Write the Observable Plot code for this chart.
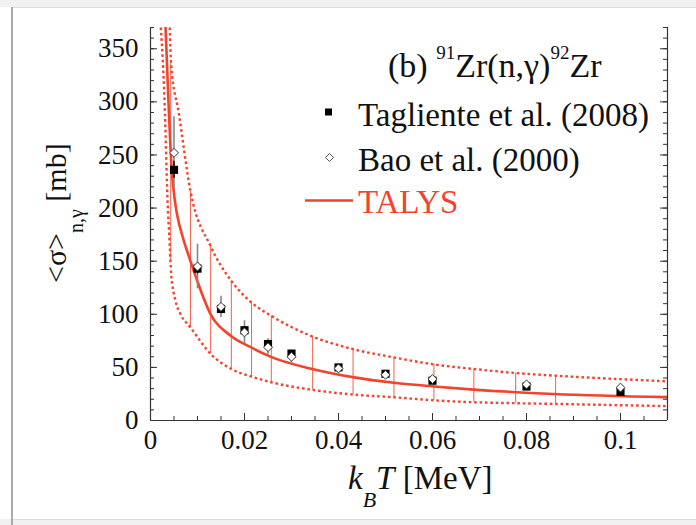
<!DOCTYPE html>
<html><head><meta charset="utf-8">
<script src="https://cdn.jsdelivr.net/npm/d3@7"></script>
<script src="https://cdn.jsdelivr.net/npm/@observablehq/plot@0.6"></script>
<style>
body{margin:0;background:#fff;}
#chart{position:relative;width:696px;height:525px;overflow:hidden;}
</style></head><body><div id="chart"></div>
<script>
// Experimental points (kT in MeV, MACS in mb)
const kT = [0.005, 0.01, 0.015, 0.02, 0.025, 0.03, 0.04, 0.05, 0.06, 0.08, 0.1];
const tagliente = [236, 143, 105, 85, 72, 63, 50, 44, 37.5, 32, 27];
const taglienteErr = [8, 5, 4, 3.5, 3, 2.5, 2, 1.8, 1.5, 1.3, 1.2];
const bao = [252, 145, 107, 83, 69, 60, 49, 43, 39, 34, 31];
const baoErr = [34, 21, 10, 11, 8, 6, 4, 3.5, 3, 2.5, 2.5];

// TALYS central curve
const talysKT = [0.0032, 0.0039, 0.0046, 0.0071, 0.0078, 0.0092, 0.0128, 0.017, 0.0213, 0.0259, 0.0344, 0.0433, 0.0518, 0.0603, 0.0688, 0.0858, 0.11];
const talys   = [370, 292, 231, 169, 159.5, 141, 100, 80, 69, 59.4, 48.5, 40.6, 35.5, 32, 29.1, 25, 22];

// TALYS uncertainty band (dotted)
const upperKT = [0.0041, 0.0044, 0.006, 0.0085, 0.0128, 0.0172, 0.0215, 0.0257, 0.0345, 0.0431, 0.0518, 0.0603, 0.0688, 0.0777, 0.0862, 0.11];
const upper   = [370, 335, 290, 216, 164, 131.4, 111, 98.5, 79, 67.2, 59.4, 52.8, 48.5, 44.7, 42.2, 36.9];
const lowerKT = [0.0022, 0.003, 0.0036, 0.0041, 0.0044, 0.0053, 0.0064, 0.0085, 0.0128, 0.0172, 0.0215, 0.0257, 0.0345, 0.0431, 0.0518, 0.0603, 0.0688, 0.0777, 0.0862, 0.11];
const lower   = [370, 300, 210, 165, 138, 113, 100, 87.6, 62.6, 48.5, 41.3, 36, 28.8, 24.4, 21.9, 19, 17.2, 16.3, 15.6, 13.5];

// vertical band bars
const barKT   = [0.0043, 0.0085, 0.0128, 0.0172, 0.0215, 0.0257, 0.0345, 0.0431, 0.0518, 0.0603, 0.0688, 0.0777, 0.0862];
const barLow  = [150, 87.6, 62.6, 48.5, 41.3, 36, 28.8, 24.4, 21.9, 19, 17.2, 16.3, 15.6];
const barHigh = [338, 216, 164, 131.4, 111, 98.5, 79, 67.2, 59.4, 52.8, 48.5, 44.7, 42.2];

// ticks
const xTicks = [0, 0.02, 0.04, 0.06, 0.08, 0.1];
const xMinor = d3.range(0, 0.1101, 0.005);
const yTicks = [0, 50, 100, 150, 200, 250, 300, 350];
const yMinor = d3.range(0, 371, 10);

const RED = "#f2432c";
const AX = "#333";
const W = 696, H = 525, ML = 150, MR = 29, MT = 27, MB = 105;
const PW = W - ML - MR, PH = H - MT - MB;

const expRows = kT.map((k, i) => ({k, tag: tagliente[i], tagE: taglienteErr[i], bao: bao[i], baoE: baoErr[i]}));
const talysRows = talysKT.map((k, i) => ({k, v: talys[i]}));
const upRows = upperKT.map((k, i) => ({k, v: upper[i]}));
const loRows = lowerKT.map((k, i) => ({k, v: lower[i]}));
const barRows = barKT.map((k, i) => ({k, lo: barLow[i], hi: barHigh[i]}));

const dotted = {stroke: RED, strokeWidth: 2.4, strokeDasharray: "2.6,2.8", strokeLinecap: "butt", curve: "monotone-x", clip: true};

const chart = Plot.plot({
  width: W, height: H,
  marginLeft: ML, marginRight: MR, marginTop: MT, marginBottom: MB,
  style: {fontFamily: "'Liberation Serif', 'DejaVu Serif', serif", fontSize: "27px", color: "#111", background: "transparent", overflow: "visible"},
  x: {domain: [0, 0.11]},
  y: {domain: [0, 370]},
  marks: [
    Plot.ruleX(barRows, {x: "k", y1: "lo", y2: "hi", stroke: RED, strokeWidth: 1, strokeOpacity: 0.85, clip: true}),
    Plot.line(upRows, {x: "k", y: "v", ...dotted}),
    Plot.line(loRows, {x: "k", y: "v", ...dotted}),
    Plot.line(talysRows, {x: "k", y: "v", stroke: RED, strokeWidth: 2.6, curve: "monotone-x", clip: true}),
    Plot.ruleX(expRows, {x: "k", y1: d => d.bao - d.baoE, y2: d => d.bao + d.baoE, stroke: "#888", strokeWidth: 1.6}),
    Plot.ruleX(expRows, {x: "k", y1: d => d.tag - d.tagE, y2: d => d.tag + d.tagE, stroke: "#000", strokeWidth: 1.4}),
    Plot.dot(expRows, {x: "k", y: "tag", symbol: "square", r: 4.6, fill: "#000", stroke: "none"}),
    Plot.dot(expRows, {x: "k", y: "bao", symbol: "diamond2", r: 4, fill: "#fff", stroke: "#333", strokeWidth: 1}),
    // axes lines
    Plot.ruleX([0], {stroke: AX, strokeWidth: 1.2}),
    Plot.ruleX([0.11], {stroke: AX, strokeWidth: 1.2}),
    Plot.ruleY([0], {stroke: AX, strokeWidth: 1.2}),
    // inward ticks
    Plot.tickY(yMinor, {y: d => d, insetRight: PW - 4, stroke: AX}),
    Plot.tickY(yTicks, {y: d => d, insetRight: PW - 7, stroke: AX}),
    Plot.tickY(yMinor, {y: d => d, insetLeft: PW - 4, stroke: AX}),
    Plot.tickY(yTicks, {y: d => d, insetLeft: PW - 7, stroke: AX}),
    Plot.tickX(xMinor, {x: d => d, insetTop: PH - 4, stroke: AX}),
    Plot.tickX(xTicks, {x: d => d, insetTop: PH - 7, stroke: AX}),
    Plot.axisY(yTicks, {tickSize: 0, tickPadding: 12, label: null, fontSize: 27}),
    Plot.axisX(xTicks, {tickSize: 0, tickPadding: 9, label: null, fontSize: 27, tickFormat: d => String(d)})
  ]
});

const svg = d3.select(chart);
// page frame decorations
svg.insert("g", ":first-child").call(g => {
  g.append("rect").attr("x", 0).attr("y", 0).attr("width", W).attr("height", 7).attr("fill", "#f1f1f1");
  g.append("line").attr("x1", 12).attr("x2", W).attr("y1", 7.5).attr("y2", 7.5).attr("stroke", "#dcdcdc");
  g.append("rect").attr("x", 0).attr("y", 519).attr("width", W).attr("height", 6).attr("fill", "#f1f1f1");
  g.append("line").attr("x1", 12).attr("x2", W).attr("y1", 519.5).attr("y2", 519.5).attr("stroke", "#dcdcdc");
  g.append("line").attr("x1", 12).attr("x2", 12).attr("y1", 7).attr("y2", 525).attr("stroke", "#aaa").attr("stroke-width", 2);
});

const FF = "'Liberation Serif', 'DejaVu Serif', serif";
const txt = svg.append("g").attr("font-family", FF).attr("fill", "#111").attr("text-anchor", "start");

// title
const t = txt.append("text").attr("x", 388).attr("y", 77).attr("font-size", 34);
t.append("tspan").text("(b) ");
t.append("tspan").attr("font-size", 19).attr("dy", -18).text("91");
t.append("tspan").attr("dy", 18).text("Zr(n,γ)");
t.append("tspan").attr("font-size", 19).attr("dy", -18).text("92");
t.append("tspan").attr("dy", 18).text("Zr");

// legend
txt.append("rect").attr("x", 325).attr("y", 108.5).attr("width", 7).attr("height", 7).attr("fill", "#000");
txt.append("path").attr("d", "M329.5,153.5 L333.5,157.5 L329.5,161.5 L325.5,157.5 Z").attr("fill", "#fff").attr("stroke", "#555").attr("stroke-width", 1);
txt.append("line").attr("x1", 305).attr("x2", 353).attr("y1", 200.5).attr("y2", 200.5).attr("stroke", RED).attr("stroke-width", 2.5);
txt.append("text").attr("x", 358).attr("y", 126).attr("font-size", 33).text("Tagliente et al. (2008)");
txt.append("text").attr("x", 358).attr("y", 171).attr("font-size", 33).text("Bao et al. (2000)");
txt.append("text").attr("x", 358).attr("y", 213).attr("font-size", 33).attr("fill", RED).text("TALYS");

// x label
const xl = txt.append("text").attr("x", 348).attr("y", 489).attr("font-size", 33);
xl.append("tspan").attr("font-style", "italic").text("k");
xl.append("tspan").attr("font-style", "italic").attr("font-size", 22).attr("dy", 18).text("B");
xl.append("tspan").attr("font-style", "italic").attr("dy", -18).text("T");
xl.append("tspan").text(" [MeV]");

// y label
const yl = txt.append("text").attr("transform", "translate(66,283) rotate(-90)").attr("font-size", 30);
yl.append("tspan").text("<σ>");
yl.append("tspan").attr("font-size", 20).attr("dy", 17).text("n,γ");
yl.append("tspan").attr("dy", -17).text(" [mb]");

document.getElementById("chart").appendChild(chart);
</script>
</body></html>
